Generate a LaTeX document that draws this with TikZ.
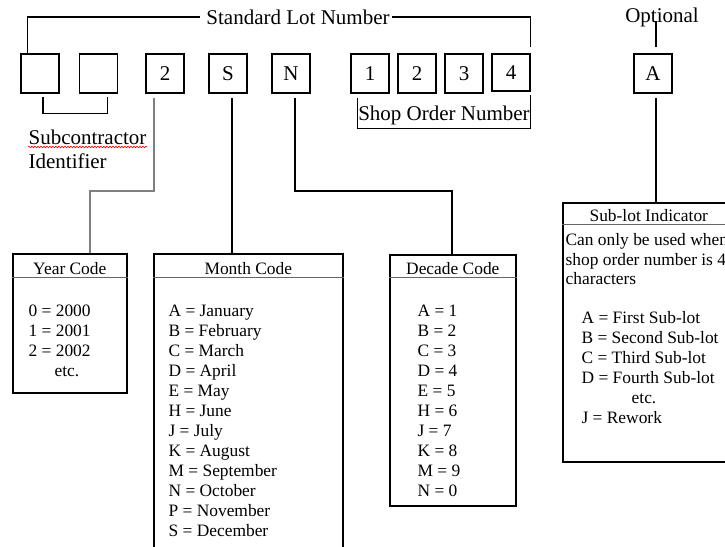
\documentclass[tikz,border=0pt]{standalone}
\usepackage{fontspec}
\setmainfont{Liberation Serif}
\usetikzlibrary{decorations.pathmorphing}
\tikzset{>=stealth}

\begin{document}
\begin{tikzpicture}[x=1pt, y=-1pt, line width=1.2pt,
  big/.style={font=\fontsize{21}{24}\selectfont, inner sep=0pt},
  small/.style={font=\fontsize{17.4}{20}\selectfont, inner sep=0pt},
  digit/.style={big, draw, line width=1.6pt, minimum width=38pt, minimum height=39pt},
  codebox/.style={draw, line width=1.6pt, inner sep=0pt, anchor=north west},
  rule/.style={line width=0.7pt, black!60}]
\useasboundingbox (0,0) rectangle (725,546);
\clip (0,0) rectangle (725,546);

% lot number characters
\node[digit] (sc1) at (40,73.5) {};
\node[digit] (sc2) at (98.5,73.5) {};
\node[digit] (yr) at (165,73.5) {2};
\node[digit] (mo) at (228,73.5) {S};
\node[digit] (dc) at (291,73.5) {N};
\node[digit] (so1) at (370,73.5) {1};
\node[digit] (so2) at (417,73.5) {2};
\node[digit] (so3) at (464,73.5) {3};
\node[digit, minimum height=37pt] (so4) at (511,72.5) {4};
\node[digit] (boxA) at (653,73.5) {A};

% labels on top
\node[big] (std) at (298,17) {Standard Lot Number};
\node[big] (opt) at (662,17) {Optional};
\coordinate (optfoot) at (656,21);
\draw ([xshift=7pt]sc1.north west) |- ([xshift=-6pt]std.west);
\draw ([xshift=2pt]std.east) -| ([yshift=6pt]so4.north east);
\draw (optfoot) -- ([xshift=3pt,yshift=6pt]boxA.north);

% subcontractor bracket
\draw ([xshift=3pt,yshift=-3pt]sc1.south) |- ([xshift=9pt,yshift=-20pt]sc2.south)
  -- ([xshift=9pt,yshift=-3pt]sc2.south);
\node[big, anchor=base west] (subc1) at (28,144) {Subcontractor};
\node[big, anchor=base west] (subc2) at (28,168) {Identifier};
\draw[red, line width=0.6pt, decorate, decoration={snake, amplitude=0.8pt, segment length=3pt}]
  ([yshift=-3pt]subc1.base west) -- ([yshift=-3pt]subc1.base east);

% shop order bracket
\draw ([xshift=7pt,yshift=-4pt]so1.south west) |- ([yshift=-37pt]so4.south east)
  -- ([yshift=-3pt]so4.south east);
\node[big] (shop) at (444,115) {Shop Order Number};

% year code
\node[codebox, minimum width=114pt, minimum height=139pt] (yearbox) at (12,253) {};
\draw[rule] ([yshift=-24pt]yearbox.north west) -- ([yshift=-24pt]yearbox.north east);
\node[small, anchor=base] (yeartitle) at ([yshift=-21pt]yearbox.north) {Year Code};
\foreach \t [count=\i] in {0 = 2000, 1 = 2001, 2 = 2002}
  \node[small, anchor=base west] (year\i) at (28,296+20*\i) {\t};
\node[small, anchor=base] (yearetc) at (67,376) {etc.};

% month code
\node[codebox, minimum width=189pt, minimum height=320pt] (monthbox) at (153,253) {};
\draw[rule] ([yshift=-24pt]monthbox.north west) -- ([yshift=-24pt]monthbox.north east);
\node[small, anchor=base] (monthtitle) at ([yshift=-21pt]monthbox.north) {Month Code};
\foreach \t [count=\i] in {A = January, B = February, C = March, D = April, E = May,
  H = June, J = July, K = August, M = September, N = October, P = November, S = December}
  \node[small, anchor=base west] (month\i) at (168,296+20*\i) {\t};

% decade code
\node[codebox, minimum width=126pt, minimum height=251pt] (decadebox) at (389,254) {};
\draw[rule] ([yshift=-23pt]decadebox.north west) -- ([yshift=-23pt]decadebox.north east);
\node[small, anchor=base] (decadetitle) at ([yshift=-20pt]decadebox.north) {Decade Code};
\foreach \t [count=\i] in {A = 1, B = 2, C = 3, D = 4, E = 5, H = 6, J = 7, K = 8, M = 9, N = 0}
  \node[small, anchor=base west] (decade\i) at (417,296+20*\i) {\t};

% sub-lot indicator
\node[codebox, minimum width=172pt, minimum height=259pt] (sublot) at (562,202) {};
\draw[rule] ([yshift=-22pt]sublot.north west) -- ([yshift=-22pt]sublot.north east);
\node[small, anchor=base] (subtitle) at ([yshift=-19pt]sublot.north) {Sub-lot Indicator};
\node[small, anchor=base west] (note1) at (565,245) {Can only be used when};
\node[small, anchor=base west] (note2) at (565,265) {shop order number is 4};
\node[small, anchor=base west] (note3) at (565,284) {characters};
\foreach \t [count=\i] in {A = First Sub-lot, B = Second Sub-lot, C = Third Sub-lot, D = Fourth Sub-lot}
  \node[small, anchor=base west] (sub\i) at (581,303+20*\i) {\t};
\node[small, anchor=base] (subetc) at (644,403) {etc.};
\node[small, anchor=base west] (subrw) at (581,423) {J = Rework};

% connectors to the code boxes
\coordinate (yrbend) at (90,191);
\coordinate (dcbend) at (452,191);
\draw[black!50] ([xshift=-11pt,yshift=-4pt]yr.south) |- (yrbend) -- (yrbend |- yearbox.north);
\draw ([xshift=4pt,yshift=-4pt]mo.south) -- ([xshift=4pt]mo.south |- monthbox.north);
\draw ([xshift=4pt,yshift=-4pt]dc.south) |- (dcbend) -- (dcbend |- decadebox.north);
\draw ([xshift=3pt,yshift=-4pt]boxA.south) -- ([xshift=3pt]boxA.south |- sublot.north);
\end{tikzpicture}
\end{document}
